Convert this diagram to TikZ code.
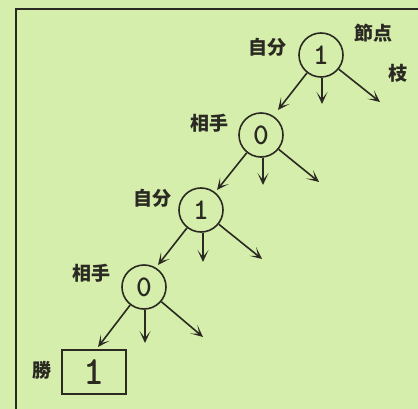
\documentclass[tikz,border=0pt]{standalone}
\usepackage{fontspec}
\newfontfamily\jp{Noto Sans CJK JP}
\usetikzlibrary{arrows.meta}
\definecolor{bg}{HTML}{D6EEAC}
\definecolor{ink}{HTML}{2A2A22}
\begin{document}
\begin{tikzpicture}[x=1pt,y=-1pt,
  state/.style={circle,draw=ink,line width=1.6pt,minimum size=44pt,inner sep=0pt,
    font=\fontsize{30}{30}\selectfont\ttfamily\bfseries,text=ink},
  lbl/.style={font=\jp\bfseries\fontsize{19}{19}\selectfont,text=ink,inner sep=0pt},
  branch/.style={draw=ink,line width=1.6pt,-{Stealth[length=12pt,width=11pt,inset=7pt]}}]
\fill[bg] (0,0) rectangle (418,409);
\useasboundingbox (0,0) rectangle (418,409);
\draw[ink,line width=1.6pt] (16,409) -- (16,9) -- (418,9);
% nodes
\node[state] (a) at (321,55) {1};
\node[state] (b) at (261,135) {0};
\node[state] (c) at (201,210) {1};
\node[state] (d) at (144,287) {0};
\node[draw=ink,line width=1.6pt,minimum width=64pt,minimum height=44pt,inner sep=0pt,
  font=\fontsize{40}{40}\selectfont\ttfamily\bfseries,text=ink] (w) at (94,372) {1};
% labels
\node[lbl] (la) at (267,47) {自分};
\node[lbl] (lb) at (209,123) {相手};
\node[lbl] (lc) at (152,198) {自分};
\node[lbl] (ld) at (91,273) {相手};
\node[lbl] (lw) at (42,370) {勝};
\node[lbl] (ln) at (373,33) {節点};
\node[lbl] (le) at (398,73) {枝};
% branch ends
\coordinate (a1) at (278,110); \coordinate (a2) at (322,104); \coordinate (a3) at (380,102);
\coordinate (b1) at (217,190); \coordinate (b2) at (263,185); \coordinate (b3) at (319,182);
\coordinate (c1) at (158,265); \coordinate (c2) at (203,262); \coordinate (c3) at (262,259);
\coordinate (d1) at (98,347);  \coordinate (d2) at (145,343); \coordinate (d3) at (203,337);
\draw[branch] (a) -- (a1); \draw[branch] (a.south) ++(1,0) coordinate (a0) (a0) -- (a2); \draw[branch] (a) -- (a3);
\draw[branch] (b) -- (b1); \draw[branch] (b.south) ++(2,0) coordinate (b0) (b0) -- (b2); \draw[branch] (b) -- (b3);
\draw[branch] (c) -- (c1); \draw[branch] (c.south) ++(2,0) coordinate (c0) (c0) -- (c2); \draw[branch] (c) -- (c3);
\draw[branch] (d) -- (d1); \draw[branch] (d.south) ++(1,0) coordinate (d0) (d0) -- (d2); \draw[branch] (d) -- (d3);
\end{tikzpicture}
\end{document}
